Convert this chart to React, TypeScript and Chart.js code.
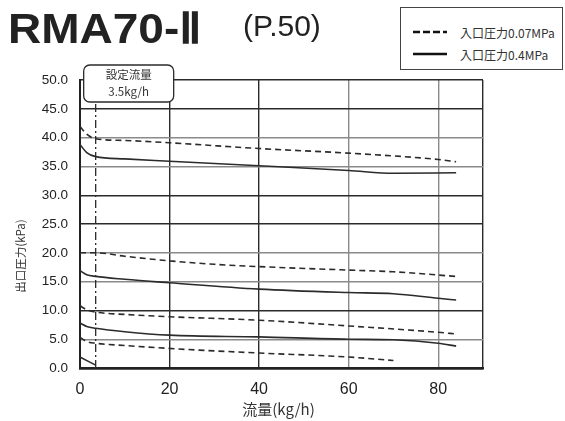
import React, { useEffect, useRef } from "react";
import { Chart, registerables } from "chart.js";

Chart.register(...registerables);

// ---- data ----
const hiDashX = [0, 1.5, 3.5, 10, 20, 40, 60, 80, 84];
const hiDashY = [41.9, 40.6, 39.8, 39.5, 39.1, 38.1, 37.3, 36.2, 35.8];

const hiSolidX = [0, 1.5, 3.5, 10, 20, 40, 60, 70, 84];
const hiSolidY = [38.8, 37.4, 36.7, 36.3, 35.9, 35.1, 34.3, 33.8, 33.9];

const midDashX = [0, 3.5, 10, 20, 30, 40, 60, 70, 84];
const midDashY = [20.0, 20.0, 19.4, 18.6, 18.0, 17.6, 17.0, 16.7, 15.9];

const midSolidX = [0, 1.5, 3.5, 10, 20, 40, 60, 70, 80, 84];
const midSolidY = [16.9, 16.2, 15.9, 15.4, 14.8, 13.7, 13.1, 12.9, 12.1, 11.8];

const lowDashX = [0, 1.5, 3.5, 10, 20, 40, 60, 80, 84];
const lowDashY = [10.8, 10.1, 9.7, 9.3, 8.9, 8.3, 7.3, 6.2, 5.9];

const lowSolidX = [0, 1.5, 3.5, 10, 20, 40, 60, 70, 80, 84];
const lowSolidY = [7.8, 7.2, 6.9, 6.3, 5.7, 5.4, 5.0, 4.9, 4.3, 3.8];

const botDashX = [0, 1.5, 3.5, 10, 22, 40, 60, 70];
const botDashY = [5.3, 4.6, 4.3, 3.9, 3.3, 2.6, 1.9, 1.3];

const botSolidX = [0, 3.5];
const botSolidY = [1.9, 0.5];

const setFlowX = [3.5, 3.5];
const setFlowY = [0, 46.3];

const xTicks = [0, 20, 40, 60, 80];
const yTickStep = 5;

const legendLabels = ["入口圧力0.07MPa", "入口圧力0.4MPa"];
const annotationLines = ["設定流量", "3.5kg/h"];
const xTitle = "流量(kg/h)";
const yTitle = "出口圧力(kPa)";

const toPts = (xs: number[], ys: number[]) => xs.map((x, i) => ({ x, y: ys[i] }));

const LINE = "#2b2b2b";
const JP = "'Noto Sans CJK JP', 'Liberation Sans', sans-serif";
const NUM = "'Liberation Sans', Arial, sans-serif";

export default function App() {
  const ref = useRef<HTMLCanvasElement | null>(null);

  useEffect(() => {
    if (!ref.current) return;
    const dashed = (xs: number[], ys: number[]) => ({
      data: toPts(xs, ys),
      borderColor: LINE,
      borderWidth: 1.6,
      borderDash: [6, 4],
      pointRadius: 0,
      cubicInterpolationMode: "monotone" as const,
      fill: false,
    });
    const solid = (xs: number[], ys: number[]) => ({
      data: toPts(xs, ys),
      borderColor: LINE,
      borderWidth: 1.6,
      pointRadius: 0,
      cubicInterpolationMode: "monotone" as const,
      fill: false,
    });

    const overlay = {
      id: "overlay",
      afterDraw(chart: any) {
        const { ctx, chartArea, scales } = chart;
        const xs = scales.x;
        // annotation box
        const cx = xs.getPixelForValue(setFlowX[0]) + 33;
        const bw = 90;
        const bh = 37;
        const bx = cx - bw / 2;
        const by = chartArea.top - 15;
        ctx.save();
        ctx.beginPath();
        (ctx as any).roundRect(bx, by, bw, bh, 6);
        ctx.fillStyle = "#fff";
        ctx.fill();
        ctx.lineWidth = 1.3;
        ctx.strokeStyle = LINE;
        ctx.stroke();
        ctx.fillStyle = "#333";
        ctx.textAlign = "center";
        ctx.textBaseline = "middle";
        ctx.font = `11.5px ${JP}`;
        ctx.fillText(annotationLines[0], cx, by + 10);
        ctx.fillText(annotationLines[1], cx, by + 27);
        // axis titles
        ctx.font = `15px ${JP}`;
        ctx.fillText(xTitle, (chartArea.left + chartArea.right) / 2 - 3, chartArea.bottom + 41);
        ctx.translate(21, chartArea.bottom - 112);
        ctx.rotate(-Math.PI / 2);
        ctx.font = `11.5px ${JP}`;
        ctx.fillText(yTitle, 0, 0);
        ctx.restore();
      },
    };

    const grayY = [5, 15, 20, 35, 40];
    const grayX = [60, 80];

    const chart = new Chart(ref.current, {
      type: "line",
      data: {
        datasets: [
          dashed(hiDashX, hiDashY),
          solid(hiSolidX, hiSolidY),
          dashed(midDashX, midDashY),
          solid(midSolidX, midSolidY),
          dashed(lowDashX, lowDashY),
          solid(lowSolidX, lowSolidY),
          dashed(botDashX, botDashY),
          solid(botSolidX, botSolidY),
          {
            data: toPts(setFlowX, setFlowY),
            borderColor: LINE,
            borderWidth: 1.3,
            borderDash: [8, 3, 2, 3],
            pointRadius: 0,
            fill: false,
          },
        ],
      },
      options: {
        responsive: false,
        animation: false,
        layout: { padding: { left: 0, top: 80, right: 82, bottom: 0 } },
        plugins: { legend: { display: false }, tooltip: { enabled: false }, title: { display: false } },
        scales: {
          x: {
            type: "linear",
            min: 0,
            max: 90,
            afterFit: (s: any) => {
              s.height = 53;
            },
            afterBuildTicks: (s: any) => {
              s.ticks = [...xTicks, 90].map((v) => ({ value: v }));
            },
            ticks: {
              padding: 12,
              color: "#222",
              font: { family: NUM, size: 16 },
              maxRotation: 0,
              callback: (v: any) => (xTicks.includes(Number(v)) ? String(v) : ""),
            },
            grid: {
              drawTicks: false,
              color: (c: any) => (grayX.includes(c.tick?.value) ? "#8a8a8a" : "#2a2a2a"),
              lineWidth: (c: any) => (c.tick?.value === 0 ? 2 : 1.4),
            },
            border: { display: true, color: "#222", width: 2.5 },
          },
          y: {
            type: "linear",
            min: 0,
            max: 50,
            afterFit: (s: any) => {
              s.width = 80;
            },
            ticks: {
              stepSize: yTickStep,
              padding: 12,
              color: "#222",
              font: { family: NUM, size: 13.5 },
              callback: (v: any) => Number(v).toFixed(1),
            },
            grid: {
              drawTicks: false,
              color: (c: any) => (grayY.includes(c.tick?.value) ? "#8a8a8a" : "#2a2a2a"),
              lineWidth: (c: any) => (c.tick?.value === 0 ? 2.5 : 1.4),
            },
            border: { display: true, color: "#222", width: 2 },
          },
        },
      },
      plugins: [overlay],
    });
    return () => chart.destroy();
  }, []);

  return (
    <div style={{ position: "absolute", left: 0, top: 0, width: 565, height: 421, background: "#fff" }}>
      <canvas ref={ref} width={565} height={421} style={{ display: "block" }} />
      <div
        style={{
          position: "absolute",
          left: 8,
          top: 3,
          fontFamily: NUM,
          fontWeight: 900,
          fontSize: 43,
          color: "#222",
          whiteSpace: "nowrap",
          transform: "scaleX(1.07)",
          transformOrigin: "left center",
        }}
      >
        RMA70-Ⅱ
      </div>
      <div
        style={{
          position: "absolute",
          left: 243,
          top: 9,
          fontFamily: NUM,
          fontSize: 30,
          color: "#222",
          whiteSpace: "nowrap",
        }}
      >
        (P.50)
      </div>
      <div
        style={{
          position: "absolute",
          left: 400,
          top: 7,
          width: 163,
          height: 63,
          border: "1.3px solid #444",
          boxSizing: "border-box",
          background: "#fff",
          fontFamily: JP,
          fontSize: 12,
          color: "#333",
        }}
      >
        {legendLabels.map((label, i) => (
          <div
            key={label}
            style={{ position: "absolute", left: 12, top: 16 + i * 22, display: "flex", alignItems: "center", height: 16 }}
          >
            <svg width={34} height={4} style={{ display: "block" }}>
              <line
                x1={0}
                y1={2}
                x2={34}
                y2={2}
                stroke="#111"
                strokeWidth={2.4}
                strokeDasharray={i === 0 ? "7 3" : undefined}
              />
            </svg>
            <span style={{ marginLeft: 13, whiteSpace: "nowrap" }}>{label}</span>
          </div>
        ))}
      </div>
    </div>
  );
}
